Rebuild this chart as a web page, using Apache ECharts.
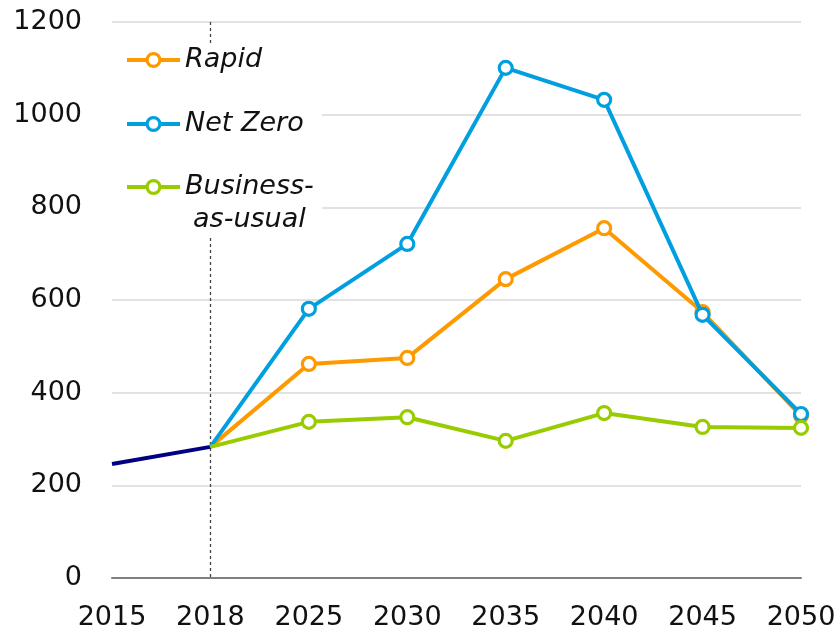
<!DOCTYPE html>
<html>
<head>
<meta charset="utf-8">
<script src="https://cdn.jsdelivr.net/npm/echarts@6/dist/echarts.min.js"></script>
<style>
html,body{margin:0;padding:0;background:#fff;}
#chart{width:840px;height:632px;}
</style>
</head>
<body>
<div id="chart"></div>
<script>
const years = ['2015','2018','2025','2030','2035','2040','2045','2050'];
const history = [246, 283, null, null, null, null, null, null];
const rapid = [null, 283, 462, 475, 645, 755, 574, 350];
const netZero = [null, 283, 581, 721, 1101, 1032, 568, 354];
const bau = [null, 283, 337, 347, 296, 356, 326, 324];
const yTicks = {min: 0, max: 1200, interval: 200};

const FONT = 'DejaVu Sans';
const FS = 27;

function pts(arr){
  return arr.map((v,i)=> i===1 ? {value:v, symbol:'none'} : v);
}
function lineSeries(name, data, color, z){
  return {
    name: name, type:'line', data: pts(data), z: z,
    symbol:'circle', symbolSize: 13,
    lineStyle:{color:color, width:4},
    itemStyle:{color:'#fff', borderColor:color, borderWidth:3.2},
    emphasis:{disabled:true}, animation:false
  };
}
function legendAt(name, top, formatter, rich){
  const l = {
    data:[name], left:125, top: top, padding:0, z:10,
    itemWidth:53, itemHeight:16, itemGap:0,
    lineStyle:{width:4},
    itemStyle:{borderWidth:3.2},
    textStyle:{fontFamily:FONT, fontSize:FS, fontStyle:'italic', color:'#111', lineHeight:33, padding:[0,0,0,0]},
    selectedMode:false
  };
  if (formatter) { l.formatter = formatter; l.textStyle.rich = rich; }
  return l;
}

const chart = echarts.init(document.getElementById('chart'), null, {renderer:'canvas'});
chart.setOption({
  animation:false,
  grid:{left:112, right:39, top:22, bottom:54, containLabel:false},
  graphic:[{type:'rect', left:112, top:45, z:3, silent:true, shape:{width:210, height:190}, style:{fill:'#fff'}}],
  legend:[
    legendAt('Rapid', 43.5),
    legendAt('Net Zero', 107.5),
    legendAt('Business-as-usual', 137.5, function(){ return '{c| }\n{c|Business-}\n{c|as-usual}'; },
      {c:{fontFamily:FONT, fontSize:FS, fontStyle:'italic', color:'#111', lineHeight:33, align:'center'}})
  ],
  xAxis:{
    type:'category', data: years, boundaryGap:false,
    axisLine:{show:true, lineStyle:{color:'#7f7f7f', width:2}},
    axisTick:{show:false},
    axisLabel:{fontFamily:FONT, fontSize:FS, color:'#111', margin:26, interval:0},
    splitLine:{show:true, interval:function(i){return i===1;}, lineStyle:{color:'#444', type:[3,3], width:1.3}}
  },
  yAxis:{
    type:'value', min:yTicks.min, max:yTicks.max, interval:yTicks.interval,
    axisLine:{show:false}, axisTick:{show:false},
    axisLabel:{fontFamily:FONT, fontSize:FS, color:'#111', margin:30, formatter:function(v){return String(v);}},
    splitLine:{lineStyle:{color:'#d9d9d9', width:1.5}}
  },
  series:[
    {name:'history', type:'line', data:history, symbol:'none', z:2,
      lineStyle:{color:'#000080', width:4}, emphasis:{disabled:true}},
    lineSeries('Rapid', rapid, '#FF9900', 3),
    lineSeries('Net Zero', netZero, '#009FDF', 4),
    lineSeries('Business-as-usual', bau, '#99CC00', 5)
  ]
});
</script>
</body>
</html>
